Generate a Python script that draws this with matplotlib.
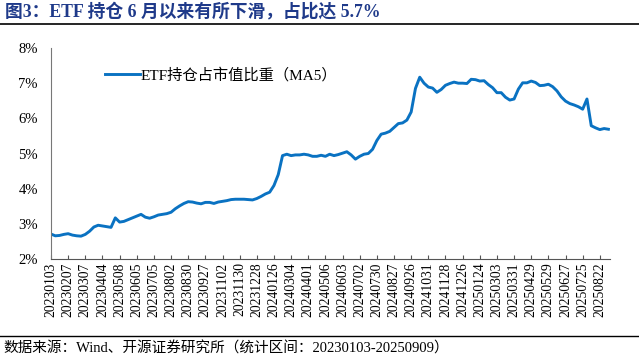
import numpy as np
import matplotlib
matplotlib.use("Agg")
import matplotlib.pyplot as plt
from matplotlib.lines import Line2D

plt.rcParams['font.family'] = ['Liberation Serif', 'Noto Sans CJK SC']

# tick labels, one every 20 trading days
dates = ["20230103", "20230207", "20230307", "20230404", "20230508", "20230605",
         "20230705", "20230802", "20230830", "20230927", "20231102", "20231130",
         "20231228", "20240126", "20240304", "20240401", "20240506", "20240603",
         "20240702", "20240730", "20240827", "20240926", "20241031", "20241128",
         "20241226", "20250124", "20250303", "20250331", "20250429", "20250529",
         "20250627", "20250725", "20250822"]

# ETF holdings share of market value (MA5, %), sampled every 5 trading days
etf_share = [2.71, 2.66, 2.67, 2.70, 2.72, 2.68, 2.66, 2.65, 2.70, 2.79,
             2.91, 2.96, 2.94, 2.92, 2.90, 3.17, 3.05, 3.07, 3.12, 3.17,
             3.22, 3.27, 3.19, 3.16, 3.20, 3.25, 3.27, 3.29, 3.33, 3.43,
             3.51, 3.58, 3.63, 3.62, 3.59, 3.57, 3.61, 3.61, 3.58, 3.62,
             3.64, 3.66, 3.69, 3.70, 3.70, 3.70, 3.69, 3.68, 3.72, 3.78,
             3.85, 3.90, 4.09, 4.40, 4.94, 4.98, 4.94, 4.96, 4.96, 4.98,
             4.96, 4.92, 4.92, 4.95, 4.92, 4.98, 4.94, 4.97, 5.01, 5.05,
             4.96, 4.84, 4.92, 4.98, 5.00, 5.12, 5.37, 5.55, 5.58, 5.63,
             5.74, 5.85, 5.87, 5.95, 6.18, 6.85, 7.17, 7.00, 6.89, 6.86,
             6.74, 6.82, 6.94, 6.99, 7.03, 7.00, 7.00, 6.99, 7.11, 7.10,
             7.06, 7.07, 6.96, 6.87, 6.73, 6.73, 6.60, 6.52, 6.55, 6.83,
             7.01, 7.01, 7.06, 7.02, 6.93, 6.94, 6.97, 6.90, 6.78, 6.61,
             6.49, 6.42, 6.38, 6.33, 6.26, 6.55, 5.79, 5.73, 5.68, 5.71,
             5.69]

x = np.arange(len(etf_share)) * 5

fig = plt.figure(figsize=(6.39, 3.58), dpi=100)
ax = fig.add_axes([0.0798, 0.2765, 0.875, 0.5894])

ax.plot(x, etf_share, color="#0A72C2", lw=2.1, label="ETF持仓占市值比重（MA5）")
ax.set_xlim(0, 652)
ax.set_ylim(2, 8)
ax.set_yticks([2, 3, 4, 5, 6, 7, 8])
ax.set_yticklabels([f"{v}%" for v in range(2, 9)], fontsize=10.5)
ax.set_xticks(np.arange(len(dates)) * 20)
ax.set_xticklabels(dates, rotation=90, fontsize=9.8)
ax.tick_params(axis="y", length=0, pad=9.5)
ax.tick_params(axis="x", direction="in", length=3, color="#555555", pad=2.5)
for s in ["top", "right"]:
    ax.spines[s].set_visible(False)
ax.spines["left"].set_color("#777777")
ax.spines["bottom"].set_color("#555555")

ax.legend(loc="center left", bbox_to_anchor=(0.0966, 0.872), frameon=False,
          fontsize=11, handlelength=2.3, handletextpad=0.05, borderpad=0,
          borderaxespad=0)

fig.text(0.008, 0.967, "图3：ETF 持仓 6 月以来有所下滑，占比达 5.7%",
         fontsize=12.8, fontweight="bold", color="#1F3A8A", va="center")
fig.add_artist(Line2D([0, 1], [0.934, 0.934], color="black", lw=1.2))
fig.add_artist(Line2D([0, 1], [0.061, 0.061], color="black", lw=1.0))
fig.text(0.005, 0.025, "数据来源：Wind、开源证券研究所（统计区间：20230103-20250909）",
         fontsize=10.5, color="black", va="center")

fig.savefig("out.png", dpi=100)
